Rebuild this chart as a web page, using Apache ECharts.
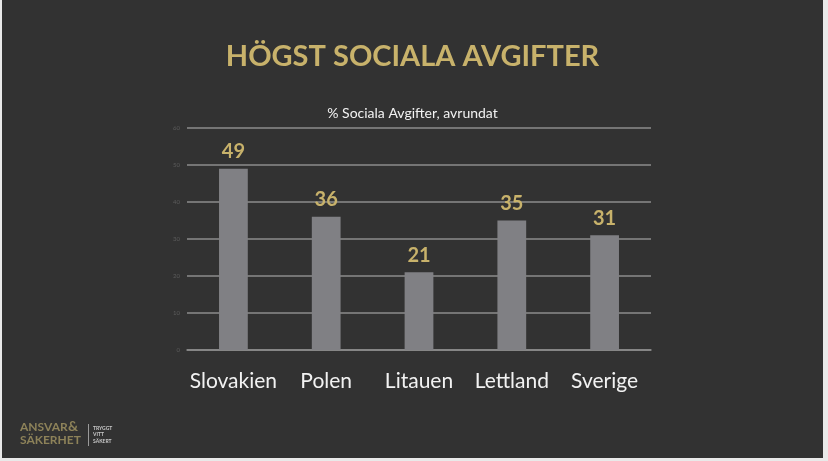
<!DOCTYPE html>
<html>
<head>
<meta charset="utf-8">
<script src="https://cdn.jsdelivr.net/npm/echarts@6/dist/echarts.min.js"></script>
<style>
    html, body { margin: 0; padding: 0; background: #e9e9e9; }
    #chart { position: absolute; left: 2px; top: 0; width: 821px; height: 458px; }
</style>
</head>
<body>
<div id="chart"></div>
<script>
'use strict';

var countries = ['Slovakien', 'Polen', 'Litauen', 'Lettland', 'Sverige'];
var socialFees = [49, 36, 21, 35, 31];
var tickValues = [0, 10, 20, 30, 40, 50, 60];

var gold = '#c8b26b';

var chart = echarts.init(document.getElementById('chart'));

chart.setOption({
    backgroundColor: '#323232',
    animation: false,
    title: [{
        text: 'HÖGST SOCIALA AVGIFTER',
        left: 'center',
        top: 37,
        textStyle: {
            color: gold,
            fontFamily: 'Lato',
            fontWeight: 'bold',
            fontSize: 29
        }
    }, {
        text: '% Sociala Avgifter, avrundat',
        left: 'center',
        top: 101,
        textStyle: {
            color: '#f2f2f2',
            fontFamily: 'Lato',
            fontWeight: 'normal',
            fontSize: 14
        }
    }],
    grid: {
        left: 185,
        right: 172,
        top: 128,
        bottom: 108
    },
    xAxis: {
        type: 'category',
        data: countries,
        axisLine: { show: true, lineStyle: { color: '#8c8c8c', width: 1.5 } },
        axisTick: { show: false },
        axisLabel: {
            color: '#f2f2f2',
            fontFamily: 'Lato',
            fontSize: 21,
            margin: 21,
            interval: 0
        }
    },
    yAxis: {
        type: 'value',
        min: tickValues[0],
        max: tickValues[tickValues.length - 1],
        interval: 10,
        axisLine: { show: false },
        axisTick: { show: false },
        splitLine: { lineStyle: { color: '#8c8c8c', width: 1.5 } },
        axisLabel: {
            color: '#5c5c5c',
            fontFamily: 'Lato',
            fontSize: 6,
            margin: 7
        }
    },
    series: [{
        type: 'bar',
        data: socialFees,
        barWidth: '31%',
        itemStyle: { color: '#808084' },
        label: {
            show: true,
            position: 'top',
            distance: 7,
            color: gold,
            fontFamily: 'Lato',
            fontWeight: 'bold',
            fontSize: 20
        }
    }],
    graphic: [{
        type: 'text',
        left: 18,
        top: 421,
        style: {
            text: 'ANSVAR',
            fill: '#8d8259',
            font: 'bold 12px Lato'
        }
    }, {
        type: 'text',
        left: 18,
        top: 434,
        style: {
            text: 'SÄKERHET',
            fill: '#8d8259',
            font: 'bold 12px Lato'
        }
    }, {
        type: 'text',
        left: 66,
        top: 419,
        style: {
            text: '&',
            fill: '#8d8259',
            font: 'bold 14px Lato'
        }
    }, {
        type: 'rect',
        left: 86,
        top: 424,
        shape: { width: 1, height: 22 },
        style: { fill: '#9a9a9a' }
    }, {
        type: 'text',
        left: 91,
        top: 425,
        style: {
            text: 'TRYGGT\nVITT\nSÄKERT',
            fill: '#c8c8c8',
            font: 'bold 5px Lato',
            lineHeight: 6.5
        }
    }]
});
</script>
</body>
</html>
